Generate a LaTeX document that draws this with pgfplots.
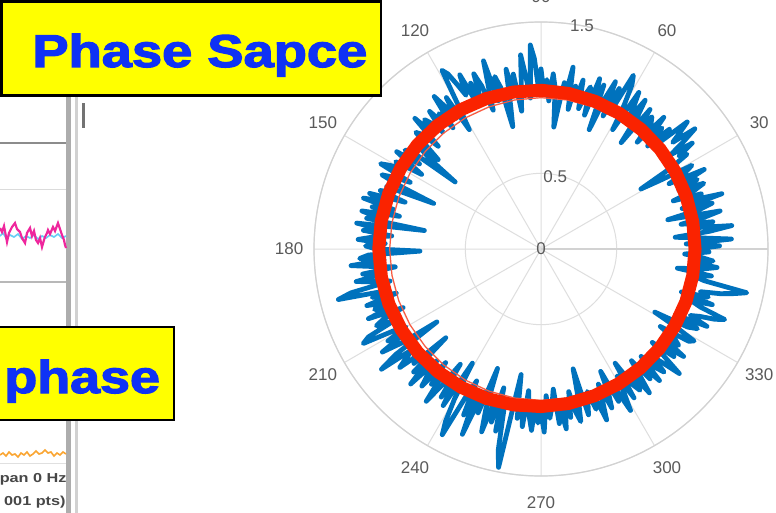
\documentclass[border=0pt]{standalone}
\usepackage{graphicx}
\usepackage{pgfplots}
\pgfplotsset{compat=1.18}
\usepgfplotslibrary{polar}
\usepackage{fontspec}
\setmainfont{Liberation Sans}
\newfontfamily\boxfont{Liberation Sans}[BoldFeatures={FakeBold=2.5}]

\definecolor{gridgray}{RGB}{222,222,222}
\definecolor{rimgray}{RGB}{210,210,210}
\definecolor{lblgray}{RGB}{90,90,90}
\definecolor{mblue}{RGB}{0,114,189}
\definecolor{ringred}{RGB}{250,35,0}
\definecolor{boxblue}{RGB}{15,50,245}
\definecolor{boxyellow}{RGB}{255,255,0}
\definecolor{trorange}{RGB}{250,165,50}

\begin{document}
\begin{tikzpicture}[lbl/.style={text=lblgray, inner sep=0, font=\fontsize{8.5pt}{9pt}\selectfont}]
\useasboundingbox (0pt,0pt) rectangle (388pt,-256.5pt);
\clip (0pt,0pt) rectangle (388pt,-256.5pt);
\fill[white] (0pt,0pt) rectangle (388pt,-256.5pt);

% neighbouring window: frame, grid lines and footer text
\begin{scope}[x=0.5pt,y=-0.5pt]
  \fill[black!32] (66,0) rectangle (70.5,513);
  \fill[black!18] (75,0) rectangle (78,513);
  \fill[black!55] (82,103) rectangle (85,128);
  \draw[black!45, line width=1pt] (0,143) -- (66,143);
  \draw[black!14, line width=0.5pt] (0,190) -- (66,190);
  \draw[black!28, line width=0.6pt] (0,282) -- (66,282);
  \draw[black!12, line width=0.5pt] (0,463) -- (66,463);
  \node[anchor=base east, inner sep=0, text=black!72, font=\bfseries\fontsize{6.5pt}{7pt}\selectfont]
    at (67,482) {\scalebox{1.25}[1]{pan 0 Hz}};
  \node[anchor=base east, inner sep=0, text=black!72, font=\bfseries\fontsize{6.5pt}{7pt}\selectfont]
    at (66,505) {\scalebox{1.25}[1]{001 pts)}};
\end{scope}

% traces of the neighbouring window
\begin{axis}[at={(0pt,-100pt)}, anchor=north west, scale only axis,
  width=33.5pt, height=140pt, xmin=0, xmax=67, ymin=200, ymax=480,
  y dir=reverse, hide axis, clip=true]
\addplot[cyan!60, line width=0.8pt] coordinates {
 (0,236) (3,233) (6,238) (10,235) (14,237) (18,234) (22,239) (26,236) (30,238)
 (34,235) (38,239) (42,236) (46,238) (50,235) (54,237) (58,234) (62,238) (66,236)};
\addplot[magenta!85, line width=1.1pt] coordinates {
 (0,228) (2,232) (4,226) (7,242) (9,233) (12,227) (15,223) (17,229) (20,232)
 (22,238) (25,243) (27,233) (30,228) (32,236) (34,231) (36,240) (38,243) (40,238)
 (42,247) (44,240) (45,237) (47,233) (48,230) (50,234) (53,227) (55,231) (58,223)
 (60,229) (62,235) (64,240) (65,245) (66,248)};
\addplot[trorange, line width=0.8pt] coordinates {
 (0,455) (3,453) (6,456) (9,452) (12,455) (15,454) (18,457) (21,453) (24,455)
 (27,452) (30,456) (33,454) (36,451) (39,454) (42,453) (45,450) (48,453) (51,452)
 (54,456) (57,453) (60,455) (63,452) (66,454)};
\end{axis}

% polar plot of the phase-space trajectory
\begin{polaraxis}[
  at={(270.5pt,-124.5pt)}, anchor=origin,
  scale only axis, width=227pt, height=227pt,
  ymin=0, ymax=1.5,
  xtick={0,30,...,330}, ytick={0,0.5,1,1.5},
  xticklabels={}, yticklabels={},
  grid=major,
  major grid style={draw=gridgray, line width=0.5pt},
  axis line style={draw=rimgray, line width=0.6pt},
  tick style={draw=none},
  clip=false,
]
\node[lbl] at (axis cs:30,1.665) {30};
\node[lbl] at (axis cs:60,1.665) {60};
\node[lbl] at (axis cs:90,1.67) {90};
\node[lbl] at (axis cs:120,1.665) {120};
\node[lbl] at (axis cs:150,1.665) {150};
\node[lbl] at (axis cs:180,1.665) {180};
\node[lbl] at (axis cs:210,1.665) {210};
\node[lbl] at (axis cs:240,1.665) {240};
\node[lbl] at (axis cs:270,1.675) {270};
\node[lbl] at (axis cs:300,1.665) {300};
\node[lbl] at (axis cs:330,1.665) {330};
\node[lbl] at (axis cs:0,0) {0};
\node[lbl] at (axis cs:79,0.49) {0.5};
\node[lbl] at (axis cs:79.6,1.5) {1.5};

\addplot[mblue, line width=2.4pt, line join=round] coordinates {
(0,1.02) (1,1.18) (2,0.96) (3,1.26) (4,1.05) (5,0.89) (6,1.12) (7,1.27) (8,1.00) (9,1.15)
(10,0.94) (11,1.10) (12,1.21) (13,0.86) (14,1.08) (15,1.17) (16,0.97) (17,1.25) (18,1.04) (19,1.12)
(20,0.93) (21,1.09) (22,1.16) (23,0.99) (24,1.13) (25,1.05) (26,1.20) (27,0.95) (28,1.08) (29,1.14)
(30,0.90) (31,0.77) (32,1.02) (33,1.15) (34,1.10) (35,1.22) (36,1.06) (37,1.18) (38,1.29) (39,1.12)
(40,1.20) (41,1.28) (42,1.05) (43,1.16) (44,0.98) (45,1.13) (46,1.07) (47,1.19) (48,0.95) (49,1.11)
(50,1.14) (51,1.02) (52,1.17) (53,0.88) (54,1.09) (55,1.20) (56,1.03) (57,1.13) (58,1.22) (59,0.92)
(60,1.10) (61,1.24) (62,1.30) (63,1.05) (64,1.18) (65,0.97) (66,1.21) (67,1.08) (68,0.85) (69,1.16)
(70,1.04) (71,1.19) (72,0.93) (73,1.12) (74,1.06) (75,0.96) (76,1.15) (77,1.01) (78,1.10) (79,0.94)
(80,1.22) (81,1.03) (82,1.11) (83,0.95) (84,0.81) (85,1.07) (86,1.16) (87,0.98) (88,1.12) (89,1.04)
(90,1.19) (91,1.08) (92,1.26) (93,1.35) (94,1.00) (95,1.14) (96,1.29) (97,1.06) (98,0.92) (99,1.17)
(100,1.05) (101,1.21) (102,0.96) (103,0.83) (104,1.10) (105,1.18) (106,1.02) (107,1.30) (108,1.12) (109,0.97)
(110,1.15) (111,1.24) (112,1.06) (113,1.19) (114,1.09) (115,1.27) (116,1.13) (117,1.22) (118,1.31) (119,1.35)
(120,1.08) (121,0.92) (122,1.18) (123,1.03) (124,1.14) (125,1.23) (126,0.99) (127,1.12) (128,1.07) (129,1.17)
(130,1.01) (131,1.10) (132,1.15) (133,1.04) (134,1.20) (135,0.96) (136,1.09) (137,1.13) (138,1.02) (139,0.90)
(140,1.06) (141,0.94) (142,0.72) (143,1.08) (144,1.11) (145,0.98) (146,1.15) (147,1.03) (148,0.93) (149,1.12)
(150,1.05) (151,1.14) (152,1.20) (153,0.97) (154,1.08) (155,1.16) (156,1.00) (157,0.77) (158,1.10) (159,1.04)
(160,1.13) (161,0.95) (162,1.19) (163,1.07) (164,1.22) (165,1.01) (166,1.15) (167,0.96) (168,1.21) (169,1.10)
(170,1.17) (171,0.78) (172,1.23) (173,1.06) (174,1.18) (175,0.99) (176,1.12) (177,1.21) (178,1.03) (179,1.16)
(180,1.09) (181,0.80) (182,1.14) (183,1.20) (184,1.04) (185,1.26) (186,1.11) (187,0.97) (188,1.19) (189,1.07)
(190,1.24) (191,1.13) (192,1.02) (193,1.29) (194,1.38) (195,1.08) (196,1.16) (197,1.00) (198,1.21) (199,1.10)
(200,1.17) (201,1.05) (202,1.23) (203,0.99) (204,1.14) (205,1.20) (206,1.08) (207,1.28) (208,1.33) (209,1.12)
(210,1.03) (211,1.18) (212,1.09) (213,1.25) (214,1.11) (215,0.84) (216,1.19) (217,1.32) (218,1.07) (219,1.15)
(220,1.22) (221,1.04) (222,1.13) (223,0.86) (224,1.17) (225,1.09) (226,1.24) (227,1.01) (228,1.12) (229,1.20)
(230,0.98) (231,1.15) (232,1.07) (233,1.26) (234,1.11) (235,0.93) (236,1.18) (237,1.05) (238,1.22) (239,0.88)
(240,1.14) (241,1.30) (242,1.39) (243,1.10) (244,0.97) (245,1.21) (246,1.08) (247,1.33) (248,1.02) (249,1.16)
(250,0.84) (251,1.12) (252,1.27) (253,1.05) (254,1.19) (255,0.95) (256,1.24) (257,1.09) (258,1.36) (259,1.47)
(260,1.06) (261,0.84) (262,1.13) (263,1.01) (264,1.18) (265,0.94) (266,1.11) (267,1.20) (268,1.03) (269,1.15)
(270,1.08) (271,1.21) (272,0.97) (273,1.12) (274,1.04) (275,0.93) (276,1.16) (277,1.07) (278,1.20) (279,1.01)
(280,1.13) (281,0.96) (282,1.10) (283,1.17) (284,1.02) (285,0.82) (286,1.14) (287,1.06) (288,0.99) (289,1.12)
(290,1.04) (291,1.21) (292,1.09) (293,0.97) (294,1.15) (295,1.06) (296,0.90) (297,1.13) (298,1.03) (299,1.22)
(300,1.10) (301,0.98) (302,1.16) (303,0.90) (304,1.08) (305,1.14) (306,1.01) (307,1.19) (308,1.06) (309,0.95)
(310,1.12) (311,1.04) (312,1.17) (313,0.97) (314,1.09) (315,1.15) (316,1.02) (317,1.11) (318,1.23) (319,1.07)
(320,0.96) (321,1.13) (322,1.05) (323,1.18) (324,1.00) (325,1.11) (326,1.07) (327,0.94) (328,1.15) (329,1.18)
(330,1.03) (331,0.86) (332,1.10) (333,1.16) (334,0.99) (335,1.21) (336,1.08) (337,1.14) (338,1.24) (339,1.30)
(340,1.12) (341,1.05) (342,1.19) (343,0.97) (344,1.15) (345,1.09) (346,1.22) (347,1.31) (348,1.39) (349,1.10)
(350,1.02) (351,1.14) (352,0.91) (353,1.08) (354,1.17) (355,0.99) (356,1.14) (357,1.06) (358,0.95) (359,1.11)
(360,1.02)};

% unit circle
\addplot[ringred!75!white, line width=0.6pt] coordinates {
(0,1) (10,1) (20,1) (30,1) (40,1) (50,1) (60,1) (70,1) (80,1) (90,1) (100,1) (110,1)
(120,1) (130,1) (140,1) (150,1) (160,1) (170,1) (180,1) (190,1) (200,1) (210,1) (220,1)
(230,1) (240,1) (250,1) (260,1) (270,1) (280,1) (290,1) (300,1) (310,1) (320,1) (330,1)
(340,1) (350,1) (360,1)};

% highlighted reference circle, centre slightly left of the pole
\addplot[ringred, line width=6.5pt, line cap=round, line join=round] coordinates {
(0,1.018) (10,1.019) (20,1.021) (30,1.024) (40,1.027) (50,1.031) (60,1.035) (70,1.039)
(80,1.044) (90,1.049) (100,1.053) (110,1.058) (120,1.062) (130,1.065) (140,1.068) (150,1.070)
(160,1.071) (170,1.072) (180,1.072) (190,1.071) (200,1.069) (210,1.066) (220,1.063) (230,1.059)
(240,1.055) (250,1.051) (260,1.046) (270,1.041) (280,1.037) (290,1.032) (300,1.028) (310,1.025)
(320,1.022) (330,1.020) (340,1.019) (350,1.018) (360,1.018)};
\end{polaraxis}

% caption boxes
\begin{scope}[x=0.5pt,y=-0.5pt]
  \filldraw[fill=boxyellow, draw=black, line width=1.4pt] (1.5,1.5) rectangle (381,95.5);
  \node[anchor=base west, inner sep=0, text=boxblue] at (32,67)
    {\boxfont\bfseries\fontsize{23pt}{24pt}\selectfont\scalebox{1.18}[1]{Phase Sapce}};
  \filldraw[fill=boxyellow, draw=black, line width=1.4pt] (-5,327) rectangle (174,420);
  \node[anchor=base west, inner sep=0, text=boxblue] at (4,393)
    {\boxfont\bfseries\fontsize{23pt}{24pt}\selectfont\scalebox{1.17}[1]{phase}};
\end{scope}
\end{tikzpicture}
\end{document}
